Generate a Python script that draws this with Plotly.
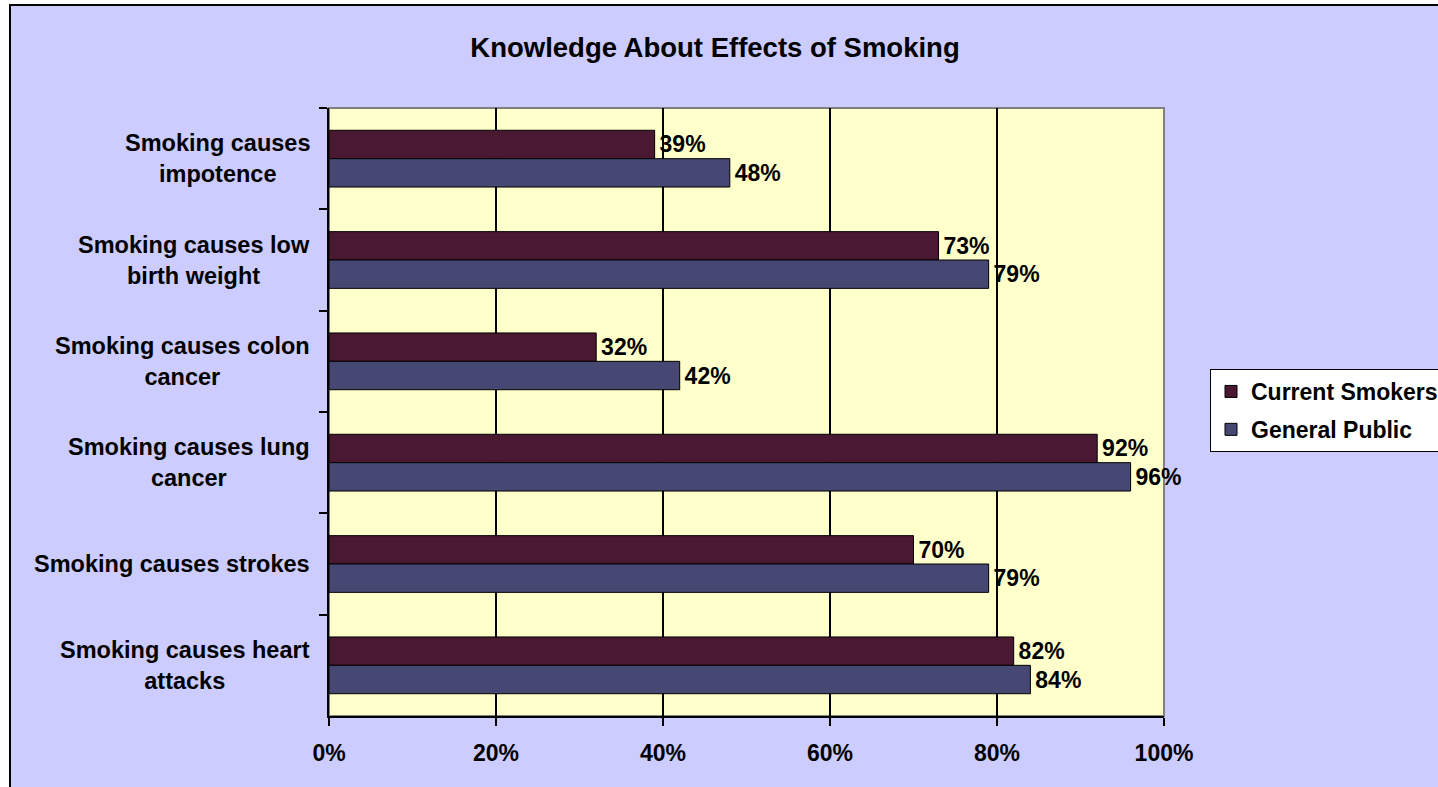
import plotly.graph_objects as go

# Survey results (percent who agree), listed top to bottom as displayed
categories = [
    "Smoking causes<br>impotence",
    "Smoking causes low<br>birth weight",
    "Smoking causes colon<br>cancer",
    "Smoking causes lung<br>cancer",
    "Smoking causes strokes",
    "Smoking causes heart<br>attacks",
]
current_smokers = [39, 73, 32, 92, 70, 82]
general_public = [48, 79, 42, 96, 79, 84]
x_ticks = [0, 20, 40, 60, 80, 100]
x_tick_labels = ["0%", "20%", "40%", "60%", "80%", "100%"]

W, H = 1438, 787
L, R, T, B = 329, 274, 108, 71
PW, PH = W - L - R, H - T - B

FONT = "Liberation Sans, Arial, sans-serif"
MAROON = "#4A1830"
SLATE = "#474773"


def px_x(p):
    return (p - L) / PW


def px_y(p):
    return (H - B - p) / PH


def bar_trace(name, values, color):
    return go.Bar(
        name=name, legendgroup=name, y=categories, x=values, orientation="h",
        marker=dict(color=color, line=dict(color="black", width=1)),
        texttemplate="\u200a%{x}%", textposition="outside", constraintext="none",
        textfont=dict(family=FONT, size=23, color="black", weight="bold"),
        cliponaxis=False,
    )


fig = go.Figure()
fig.add_trace(bar_trace("Current Smokers", current_smokers, MAROON))
fig.add_trace(bar_trace("General Public", general_public, SLATE))

# Category labels: centred lines, block right-aligned against the axis
for c in categories:
    fig.add_annotation(
        x=px_x(312), xref="paper", xanchor="right", y=c, yref="y",
        text=c, showarrow=False, align="center",
        font=dict(family=FONT, size=23.5, color="black", weight="bold"),
    )

shapes = [
    # chart area
    dict(type="rect", xref="paper", yref="paper",
         x0=px_x(10), x1=px_x(W + 40), y0=px_y(H + 40), y1=px_y(5),
         fillcolor="#CCCCFF", line=dict(color="black", width=2), layer="below"),
    # plot area
    dict(type="rect", xref="paper", yref="paper", x0=0, x1=1, y0=0, y1=1,
         fillcolor="#FFFFCC", line=dict(color="#808080", width=2), layer="below"),
]

fig.update_layout(
    width=W, height=H,
    margin=dict(l=L, r=R, t=T, b=B, autoexpand=False),
    paper_bgcolor="white", plot_bgcolor="#FFFFCC",
    shapes=shapes,
    barmode="group", bargap=0.44, bargroupgap=0,
    title=dict(text="<b>Knowledge About Effects of Smoking</b>",
               x=715 / W, xanchor="center", xref="container",
               y=1 - 47 / H, yanchor="middle", yref="container",
               font=dict(family=FONT, size=27.5, color="black")),
    font=dict(family=FONT, color="black"),
    xaxis=dict(range=[0, 100], tickvals=x_ticks, ticktext=x_tick_labels,
               showgrid=True, gridcolor="black", gridwidth=1.5,
               showline=True, linecolor="black", linewidth=2,
               ticks="outside", ticklen=8, tickcolor="black", tickwidth=1.5,
               ticklabelstandoff=7, zeroline=False,
               tickfont=dict(family=FONT, size=23, color="black", weight="bold")),
    yaxis=dict(autorange="reversed", showticklabels=False, showgrid=False,
               showline=True, linecolor="black", linewidth=2,
               ticks="outside", tickson="boundaries", ticklen=8,
               tickcolor="black", tickwidth=1.5),
    legend=dict(x=px_x(1210), xanchor="left", y=px_y(369), yanchor="top",
                bgcolor="white", bordercolor="black", borderwidth=1,
                font=dict(family=FONT, size=23, color="black", weight="bold"),
                itemwidth=30, tracegroupgap=5),
    showlegend=True,
)

fig.write_html("out.html")
